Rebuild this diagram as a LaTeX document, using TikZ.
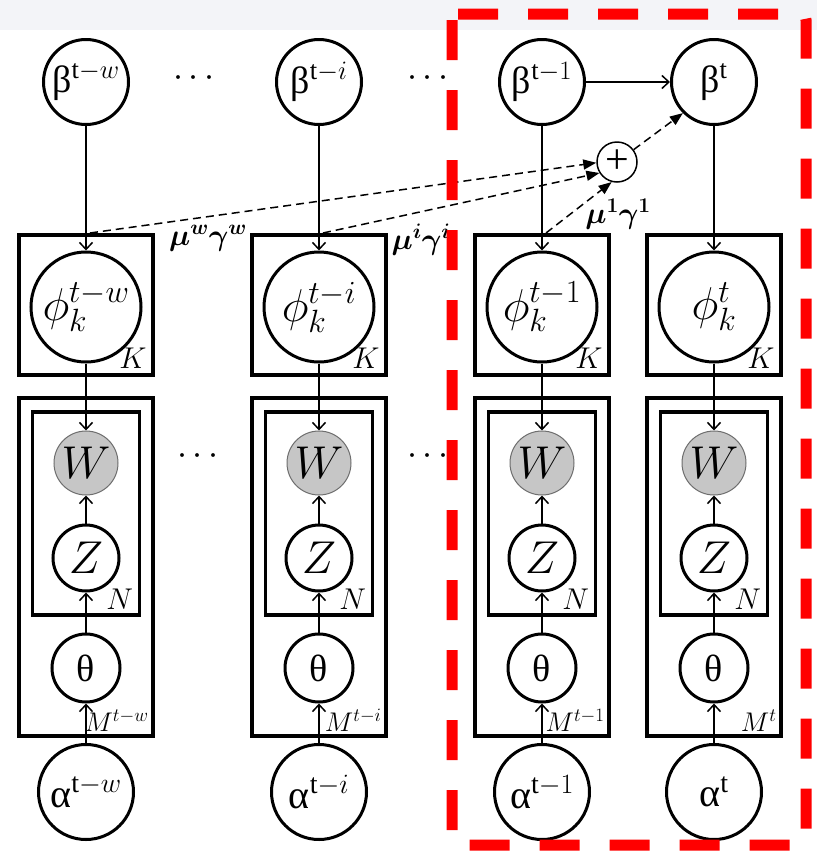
\RequirePackage{fix-cm}
\documentclass[tikz,border=0pt]{standalone}
\usepackage{amsmath}
\usepackage{fontspec}
\setmainfont{Liberation Serif}
\usetikzlibrary{arrows.meta}

\definecolor{bandgrey}{RGB}{243,244,248}
\definecolor{obsfill}{RGB}{198,198,198}
\definecolor{obsline}{RGB}{110,110,110}
\definecolor{framered}{RGB}{255,0,0}

\tikzset{
  hyper/.style={circle, draw, line width=3pt, inner sep=0pt, minimum size=85pt,
    font=\fontsize{38}{44}\selectfont},
  hyperA/.style={circle, draw, line width=3pt, inner sep=0pt, minimum size=95pt,
    font=\fontsize{40}{46}\selectfont},
  topic/.style={circle, draw, line width=3pt, inner sep=0pt, minimum size=110pt,
    font=\fontsize{46}{52}\selectfont},
  obsvar/.style={circle, draw=obsline, fill=obsfill, line width=1pt, inner sep=0pt,
    minimum size=64pt, font=\fontsize{46}{52}\selectfont},
  latent/.style={circle, draw, line width=3pt, inner sep=0pt, minimum size=66pt,
    font=\fontsize{46}{52}\selectfont},
  thetanode/.style={circle, draw, line width=3pt, inner sep=0pt, minimum size=68pt,
    font=\fontsize{38}{44}\selectfont},
  plate/.style={draw, line width=3.5pt, inner sep=0pt},
  platelabel/.style={anchor=south east, inner sep=0pt, font=\fontsize{30}{36}\selectfont},
  mlabel/.style={anchor=south east, inner sep=0pt, font=\fontsize{27}{32}\selectfont},
  edge/.style={line width=1.5pt, -{Straight Barb[length=7pt,width=13pt,line width=1.5pt]}},
  dashedge/.style={line width=1.5pt, dash pattern=on 8pt off 5pt,
    -{Triangle[length=13pt,width=10pt]}},
  wlabel/.style={inner sep=0pt, font=\fontsize{30}{36}\selectfont},
  dotsnode/.style={inner sep=0pt, font=\fontsize{36}{42}\selectfont},
}

\newfontfamily\grk{Liberation Serif}

\begin{document}
\begin{tikzpicture}[x=1pt, y=-1pt]
  \useasboundingbox (0,0) rectangle (817,852);
  \fill[white] (0,0) rectangle (817,852);
  \fill[bandgrey] (0,0) rectangle (817,30);

  % one time slice per column
  \foreach \i/\x/\bs/\ps in {1/86/{\mathrm{t}-w}/{t-w}, 2/319/{\mathrm{t}-i}/{t-i},
                             3/542/{\mathrm{t}-1}/{t-1}, 4/714/{\mathrm{t}}/{t}} {
    % plates
    \node[plate, minimum width=134pt, minimum height=140pt] (K\i) at (\x,305) {};
    \node[plate, minimum width=134pt, minimum height=338pt] (M\i) at (\x,567) {};
    \node[plate, minimum width=107pt, minimum height=203pt] (N\i) at (\x,513.5) {};
    \node[platelabel] (Kl\i) at ([xshift=-8pt,yshift=8pt]K\i.south east) {$K$};
    \node[platelabel] (Nl\i) at ([xshift=-8pt,yshift=7pt]N\i.south east) {$N$};
    \node[mlabel] (Ml\i) at ([xshift=-6pt,yshift=6pt]M\i.south east) {$M^{\ps}$};
    % variables
    \node[hyper]  (b\i) at (\x,82)  {{\grk β}$^{\bs}$};
    \node[topic]  (p\i) at (\x,307) {$\phi_k^{\ps}$};
    \node[obsvar] (w\i) at (\x,463) {$W$};
    \node[latent] (z\i) at (\x,558) {$Z$};
    \node[thetanode] (t\i) at (\x,668) {{\grk θ}};
    \node[hyperA] (a\i) at (\x,792) {{\grk α}$^{\bs}$};
    % edges
    \draw[edge] (b\i) -- (p\i);
    \draw[edge] (p\i) -- (w\i);
    \draw[edge] (z\i) -- (w\i);
    \draw[edge] (t\i) -- (z\i);
    \draw[edge] (a\i) -- (t\i);
    \coordinate (d\i) at (\x+4,233);
  }

  % ellipses between slices
  \node[dotsnode] (dt1) at (197,78) {$\cdots$};
  \node[dotsnode] (dm1) at (201,456) {$\cdots$};
  \node[dotsnode] (dt2) at (431,78) {$\cdots$};
  \node[dotsnode] (dm2) at (431,456) {$\cdots$};

  % weighted sum of past topic-word priors
  \node[circle, draw, line width=1.5pt, inner sep=0pt, minimum size=40pt,
        font=\fontsize{42}{46}\selectfont] (plus) at (617,162) {+};
  \draw[edge] (b3) -- (b4);
  \draw[dashedge] (d1) -- (plus.182);
  \draw[dashedge] (d2) -- (plus.212);
  \draw[dashedge] (d3) -- (plus.255);
  \draw[dashedge] (plus) -- (b4.225);

  \node[wlabel] (l1) at (208,238) {$\boldsymbol{\mu^{w}\gamma^{w}}$};
  \node[wlabel] (l2) at (421,240) {$\boldsymbol{\mu^{i}\gamma^{i}}$};
  \node[wlabel] (l3) at (618,214) {$\boldsymbol{\mu^{1}\gamma^{1}}$};

  % highlighted current window
  \draw[framered, line width=11pt, dash pattern=on 40pt off 30pt, rounded corners=6pt]
    (452,14) rectangle (806,845);
\end{tikzpicture}
\end{document}
